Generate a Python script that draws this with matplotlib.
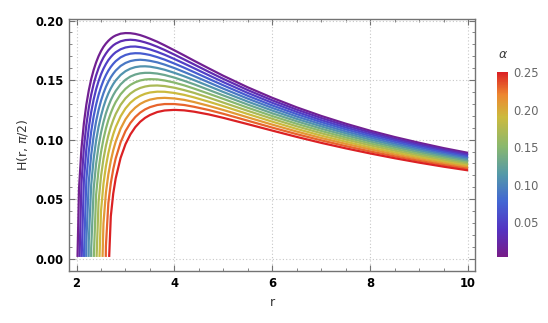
import matplotlib
matplotlib.use("Agg")
import matplotlib.pyplot as plt
from matplotlib.colors import LinearSegmentedColormap, Normalize
from matplotlib.cm import ScalarMappable
from matplotlib.ticker import MultipleLocator, FormatStrFormatter

# alpha values of the curves (colour scale)
alphas = [0.01, 0.03, 0.05, 0.07, 0.09, 0.11, 0.13, 0.15, 0.17, 0.19, 0.21, 0.23, 0.25]

# r where each curve starts (H = 0)
r_start = [2.0202, 2.0619, 2.1053, 2.1505, 2.1978, 2.2472, 2.2989,
           2.3529, 2.4096, 2.4691, 2.5316, 2.5974, 2.6667]

# r values; each curve uses the tail of this list
r_grid = [2.05, 2.10, 2.15, 2.20, 2.25, 2.30, 2.35, 2.40, 2.45, 2.50, 2.55, 2.60, 2.65,
          2.70, 2.75, 2.80, 2.90, 3.00, 3.10, 3.20, 3.30, 3.40, 3.50, 3.65, 3.80, 4.00,
          4.20, 4.40, 4.70, 5.00, 5.50, 6.00, 6.50, 7.00, 7.50, 8.00, 8.50, 9.00, 9.50, 10.0]

# H(r, pi/2) values (x 1e-4), one list per alpha
h_001 = [585, 924, 1137, 1293, 1413, 1509, 1586, 1649, 1701, 1744, 1779, 1807, 1830, 1849, 1864, 1875,
         1890, 1895, 1894, 1888, 1878, 1864, 1848, 1822, 1792, 1750, 1707, 1663, 1599, 1536,
         1439, 1351, 1271, 1199, 1134, 1075, 1022, 974, 929, 889]
h_003 = [632, 928, 1122, 1266, 1378, 1468, 1540, 1600, 1649, 1690, 1723, 1751, 1773, 1792, 1806,
         1826, 1836, 1839, 1836, 1828, 1817, 1804, 1780, 1753, 1714, 1673, 1632, 1570, 1510,
         1416, 1330, 1252, 1182, 1118, 1061, 1008, 961, 917, 877]
h_005 = [654, 919, 1099, 1233, 1338, 1423, 1492, 1549, 1596, 1635, 1668, 1694, 1716, 1734,
         1759, 1774, 1781, 1782, 1777, 1769, 1758, 1737, 1713, 1677, 1639, 1600, 1541, 1483,
         1392, 1309, 1233, 1164, 1102, 1046, 995, 948, 905, 866]
h_007 = [657, 901, 1069, 1196, 1295, 1376, 1442, 1497, 1542, 1580, 1611, 1637, 1659,
         1691, 1711, 1722, 1726, 1725, 1719, 1711, 1693, 1672, 1639, 1604, 1567, 1511, 1456,
         1368, 1287, 1214, 1147, 1086, 1031, 981, 935, 893, 854]
h_009 = [137, 646, 874, 1033, 1154, 1249, 1327, 1390, 1443, 1487, 1524, 1554, 1580,
         1619, 1644, 1660, 1668, 1671, 1668, 1662, 1649, 1630, 1601, 1568, 1534, 1481, 1428,
         1344, 1266, 1194, 1129, 1069, 1016, 966, 921, 880, 843]
h_011 = [148, 622, 840, 992, 1108, 1200, 1275, 1337, 1388, 1431, 1467, 1497,
         1543, 1575, 1596, 1609, 1615, 1616, 1613, 1602, 1587, 1561, 1532, 1500, 1450, 1400,
         1319, 1244, 1174, 1111, 1053, 1000, 952, 908, 868, 831]
h_013 = [91, 586, 798, 946, 1058, 1148, 1221, 1281, 1332, 1374, 1409,
         1464, 1503, 1530, 1547, 1557, 1561, 1561, 1555, 1543, 1521, 1494, 1465, 1418, 1371,
         1294, 1221, 1154, 1092, 1036, 984, 937, 894, 855, 819]
h_015 = [538, 749, 894, 1005, 1093, 1165, 1224, 1274, 1316,
         1381, 1427, 1460, 1482, 1497, 1505, 1508, 1506, 1497, 1479, 1456, 1429, 1386, 1342,
         1268, 1198, 1133, 1073, 1018, 968, 922, 880, 842, 806]
h_017 = [477, 693, 838, 948, 1035, 1107, 1165, 1215,
         1292, 1347, 1387, 1415, 1434, 1446, 1453, 1455, 1450, 1436, 1416, 1393, 1353, 1311,
         1242, 1175, 1112, 1054, 1001, 952, 907, 866, 828, 794]
h_019 = [400, 629, 777, 887, 975, 1046, 1105,
         1196, 1262, 1310, 1344, 1368, 1385, 1396, 1403, 1402, 1392, 1376, 1355, 1319, 1281,
         1215, 1151, 1090, 1034, 983, 935, 892, 852, 815, 781]
h_021 = [296, 554, 709, 822, 911, 983,
         1092, 1171, 1228, 1269, 1300, 1321, 1336, 1348, 1351, 1346, 1334, 1316, 1284, 1249,
         1187, 1126, 1068, 1014, 965, 919, 876, 837, 801, 768]
h_023 = [107, 467, 634, 752, 843,
         977, 1072, 1140, 1190, 1227, 1254, 1273, 1291, 1299, 1299, 1291, 1276, 1249, 1217,
         1159, 1101, 1046, 994, 946, 901, 860, 822, 787, 755]
h_025 = [356, 548, 675,
         847, 962, 1044, 1105, 1150, 1183, 1207, 1232, 1245, 1250, 1246, 1235, 1212, 1183,
         1130, 1076, 1023, 973, 927, 884, 844, 807, 773, 742]

h_curves = [h_001, h_003, h_005, h_007, h_009, h_011, h_013,
            h_015, h_017, h_019, h_021, h_023, h_025]

cbar_ticks = [0.05, 0.10, 0.15, 0.20, 0.25]

# Mathematica-like "Rainbow" gradient
rainbow = LinearSegmentedColormap.from_list("rainbow_m", [
    (0.00, (0.47, 0.11, 0.53)),
    (0.15, (0.33, 0.20, 0.76)),
    (0.30, (0.26, 0.40, 0.83)),
    (0.45, (0.33, 0.60, 0.66)),
    (0.60, (0.54, 0.72, 0.43)),
    (0.76, (0.80, 0.73, 0.24)),
    (0.88, (0.93, 0.53, 0.19)),
    (1.00, (0.86, 0.13, 0.14)),
])
norm = Normalize(vmin=0.003, vmax=0.25)

fig = plt.figure(figsize=(5.48, 3.23), dpi=100)
ax = fig.add_axes([0.126, 0.161, 0.741, 0.779])

for a, r0, h in zip(alphas, r_start, h_curves):
    r = [r0] + r_grid[len(r_grid) - len(h):]
    y = [0.0015] + [v * 1e-4 for v in h]
    ax.plot(r, y, color=rainbow(norm(a)), lw=1.6, solid_capstyle="butt")

ax.set_xlim(1.847, 10.143)
ax.set_ylim(-0.0103, 0.201)
ax.xaxis.set_major_locator(MultipleLocator(2))
ax.xaxis.set_minor_locator(MultipleLocator(0.5))
ax.yaxis.set_major_locator(MultipleLocator(0.05))
ax.yaxis.set_minor_locator(MultipleLocator(0.01))
ax.yaxis.set_major_formatter(FormatStrFormatter("%.2f"))
ax.tick_params(which="both", direction="in", top=True, right=True, color="0.45")
ax.tick_params(which="major", length=4.5, width=0.8, labelsize=8.3, pad=4)
ax.tick_params(which="minor", length=2.5, width=0.6)
for lab in ax.get_xticklabels() + ax.get_yticklabels():
    lab.set_fontweight("bold")
for sp in ax.spines.values():
    sp.set_color("0.45")
    sp.set_linewidth(1.0)
ax.grid(True, which="major", linestyle=(0, (1, 2)), color="0.78", lw=0.8)
ax.set_xlabel("r", fontsize=9, color="0.2", labelpad=5)
ax.set_ylabel("H(r, $\\pi$/2)", fontsize=9, color="0.2", labelpad=4)

cax = fig.add_axes([0.907, 0.203, 0.020, 0.573])
cb = fig.colorbar(ScalarMappable(norm=norm, cmap=rainbow), cax=cax, ticks=cbar_ticks)
cb.outline.set_visible(False)
cb.ax.tick_params(length=0, labelsize=8.3, labelcolor="0.4", pad=4)
cb.ax.set_yticklabels(["%.2f" % t for t in cbar_ticks])
fig.text(0.918, 0.83, "$\\alpha$", fontsize=9, color="0.25", ha="center", va="center")

fig.savefig("out.png", dpi=100)
